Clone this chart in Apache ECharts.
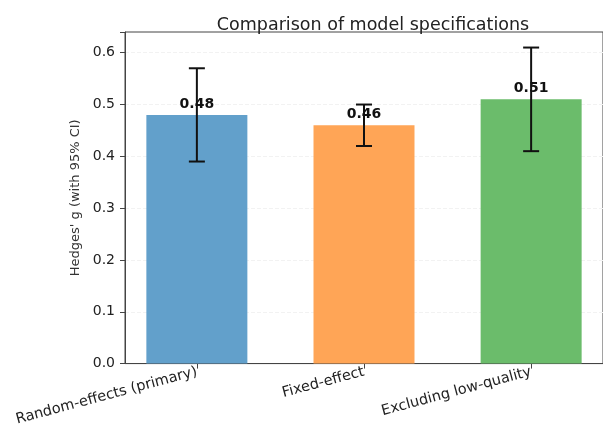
<!DOCTYPE html>
<html>
<head>
<meta charset="utf-8">
<script src="https://cdn.jsdelivr.net/npm/echarts@6/dist/echarts.min.js"></script>
<style>
	html, body { margin: 0; padding: 0; background: #fff; }
	#chart { width: 603px; height: 428px; }
</style>
</head>
<body>
<div id="chart"></div>
<script>
var categories = ['Random-effects (primary)', 'Fixed-effect', 'Excluding low-quality'];
var estimates = [0.48, 0.46, 0.51];
var ciLower = [0.39, 0.42, 0.41];
var ciUpper = [0.57, 0.50, 0.61];
var barColors = ['#62a0cb', '#ffa556', '#6bbc6b'];
var xPositions = [0, 1, 2];

var chart = echarts.init(document.getElementById('chart'));
var font = 'DejaVu Sans';

var barData = estimates.map(function (v, i) {
	return { value: [xPositions[i], v], itemStyle: { color: barColors[i] } };
});
var errData = estimates.map(function (v, i) {
	return [xPositions[i], ciLower[i], ciUpper[i]];
});

var option = {
	animation: false,
	title: {
		text: 'Comparison of model specifications',
		left: 368,
		textAlign: 'center',
		top: 11,
		textStyle: { fontFamily: font, fontSize: 17.5, fontWeight: 'normal', color: '#222' }
	},
	grid: {
		left: 125,
		top: 32,
		width: 486,
		height: 333,
		show: true,
		borderColor: '#444',
		borderWidth: 1
	},
	xAxis: {
		type: 'value',
		min: -0.43,
		max: 2.43,
		splitLine: { show: false },
		axisLine: { show: true, onZero: false, lineStyle: { color: '#444' } },
		axisTick: { show: true, customValues: xPositions, length: 5, lineStyle: { color: '#444' } },
		axisLabel: {
			customValues: xPositions,
			rotate: 15,
			margin: 8,
			fontFamily: font,
			fontSize: 14.5,
			color: '#222',
			formatter: function (v) { return categories[Math.round(v)]; }
		}
	},
	yAxis: {
		type: 'value',
		min: 0,
		max: 0.64,
		interval: 0.1,
		name: "Hedges' g (with 95% CI)",
		nameLocation: 'middle',
		nameGap: 41,
		nameTextStyle: { fontFamily: font, fontSize: 13, color: '#333' },
		axisLine: { show: true, onZero: false, lineStyle: { color: '#444' } },
		axisTick: { show: true, length: 5, lineStyle: { color: '#444' } },
		axisLabel: {
			fontFamily: font,
			fontSize: 14,
			color: '#222',
			margin: 10,
			formatter: function (v) { return v > 0.62 ? '' : v.toFixed(1); }
		},
		splitLine: {
			show: true,
			showMinLine: false,
			showMaxLine: false,
			lineStyle: { color: '#f2f2f2', type: 'dashed' }
		}
	},
	series: [{
		type: 'bar',
		barWidth: 101,
		data: barData,
		label: {
			show: true,
			position: 'top',
			distance: 4,
			fontFamily: font,
			fontSize: 14,
			fontWeight: 'bold',
			color: '#111',
			formatter: function (p) { return p.value[1].toFixed(2); }
		}
	}, {
		type: 'custom',
		z: 10,
		data: errData,
		renderItem: function (params, api) {
			var lo = api.coord([api.value(0), api.value(1)]);
			var hi = api.coord([api.value(0), api.value(2)]);
			var cap = 8;
			var style = { stroke: '#111', lineWidth: 2 };
			return {
				type: 'group',
				children: [
					{ type: 'line', shape: { x1: hi[0], y1: hi[1], x2: lo[0], y2: lo[1] }, style: style },
					{ type: 'line', shape: { x1: hi[0] - cap, y1: hi[1], x2: hi[0] + cap, y2: hi[1] }, style: style },
					{ type: 'line', shape: { x1: lo[0] - cap, y1: lo[1], x2: lo[0] + cap, y2: lo[1] }, style: style }
				]
			};
		}
	}]
};

chart.setOption(option);
</script>
</body>
</html>
